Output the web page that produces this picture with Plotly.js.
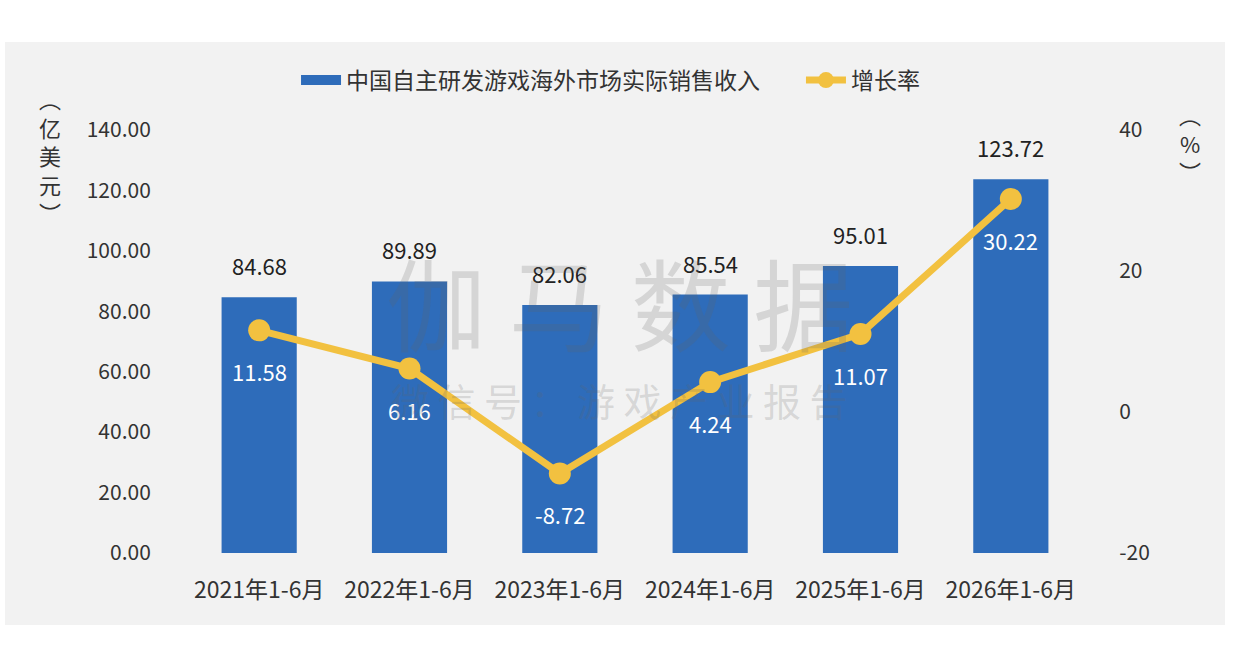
<!DOCTYPE html>
<html>
<head>
<meta charset="utf-8">
<script src="https://cdn.plot.ly/plotly-3.0.1.min.js"></script>
<style>
  html, body { margin: 0; padding: 0; background: #ffffff; }
  #chart { width: 1248px; height: 651px; }
</style>
</head>
<body>
<div id="chart"></div>
<script>
// Chart data
var periods = ['2021年1-6月', '2022年1-6月', '2023年1-6月', '2024年1-6月', '2025年1-6月', '2026年1-6月'];
var revenue = [84.68, 89.89, 82.06, 85.54, 95.01, 123.72];
var growth = [11.58, 6.16, -8.72, 4.24, 11.07, 30.22];

var rateTicks = [-20, 0, 20, 40];
var rateTickText = ['-20', '0', '20', '40'];

var barName = '中国自主研发游戏海外市场实际销售收入';
var lineName = '增长率';

var BAR_COLOR = '#2e6cba';
var LINE_COLOR = '#f2c140';
var FONT = '"Noto Sans CJK SC", "Noto Sans", sans-serif';
var TEXT_COLOR = '#333333';

var bars = {
    x: periods,
    y: revenue,
    name: barName,
    type: 'bar',
    width: 0.5,
    marker: { color: BAR_COLOR },
    showlegend: false,
    hoverinfo: 'skip'
};

// legend swatch for the bars (wide rectangle like the original)
var barKey = {
    x: [null],
    y: [null],
    name: barName,
    type: 'scatter',
    mode: 'lines',
    line: { color: BAR_COLOR, width: 13 },
    legend: 'legend',
    hoverinfo: 'skip'
};

var line = {
    x: periods,
    y: growth,
    name: lineName,
    type: 'scatter',
    mode: 'lines+markers',
    yaxis: 'y2',
    line: { color: LINE_COLOR, width: 7 },
    marker: { color: LINE_COLOR, size: 22 },
    legend: 'legend2',
    hoverinfo: 'skip'
};

// value labels
var annotations = [];
periods.forEach(function (p, i) {
    annotations.push({
        x: p, y: revenue[i], xref: 'x', yref: 'y',
        text: revenue[i].toFixed(2),
        showarrow: false, yanchor: 'bottom', yshift: 14,
        font: { family: FONT, size: 22, color: '#222222' }
    });
    annotations.push({
        x: p, y: growth[i], xref: 'x', yref: 'y2',
        text: growth[i].toFixed(2),
        showarrow: false, yanchor: 'middle', yshift: -41,
        font: { family: FONT, size: 22, color: '#ffffff' }
    });
});

// axis unit labels
annotations.push({
    xref: 'paper', yref: 'paper', x: -0.1486, y: 0.94,
    xanchor: 'center', yanchor: 'middle',
    text: '︵<br>亿<br>美<br>元<br>︶',
    showarrow: false, align: 'center',
    font: { family: FONT, size: 22, color: TEXT_COLOR }
});
annotations.push({
    xref: 'paper', yref: 'paper', x: 1.1153, y: 0.9716,
    xanchor: 'center', yanchor: 'middle',
    text: '︵<br>%<br>︶',
    showarrow: false, align: 'center',
    font: { family: FONT, size: 22, color: TEXT_COLOR }
});

// watermark
annotations.push({
    xref: 'paper', yref: 'paper', x: 0.483, y: 0.598,
    xanchor: 'center', yanchor: 'middle',
    text: '伽 马 数 据',
    showarrow: false,
    font: { family: FONT, size: 100, color: 'rgba(100,100,100,0.2)' }
});
annotations.push({
    xref: 'paper', yref: 'paper', x: 0.483, y: 0.362,
    xanchor: 'center', yanchor: 'middle',
    text: '微 信 号 ： 游 戏 产 业 报 告',
    showarrow: false,
    font: { family: FONT, size: 38, color: 'rgba(100,100,100,0.2)' }
});

var legendStyle = function (x) {
    return {
        orientation: 'h',
        x: x, xanchor: 'left',
        y: 1.118, yanchor: 'middle',
        font: { family: FONT, size: 23, color: TEXT_COLOR },
        itemwidth: 40,
        bgcolor: 'rgba(0,0,0,0)'
    };
};

var layout = {
    width: 1248,
    height: 651,
    margin: { l: 184, r: 162, t: 130, b: 98 },
    paper_bgcolor: '#ffffff',
    plot_bgcolor: 'rgba(0,0,0,0)',
    font: { family: FONT, size: 21, color: TEXT_COLOR },
    showlegend: true,
    legend: legendStyle(0.1242),
    legend2: legendStyle(0.684),
    xaxis: {
        type: 'category',
        showgrid: false, zeroline: false, showline: false,
        ticks: 'outside', ticklen: 16, tickcolor: 'rgba(0,0,0,0)',
        tickfont: { family: FONT, size: 23, color: TEXT_COLOR }
    },
    yaxis: {
        range: [0, 140],
        dtick: 20,
        tickformat: '.2f',
        showgrid: false, zeroline: false, showline: false,
        ticks: 'outside', ticklen: 28, tickcolor: 'rgba(0,0,0,0)',
        tickfont: { family: FONT, size: 21, color: TEXT_COLOR }
    },
    yaxis2: {
        overlaying: 'y',
        side: 'right',
        range: [-20, 40],
        tickmode: 'array',
        tickvals: rateTicks,
        ticktext: rateTickText,
        showgrid: false, zeroline: false, showline: false,
        ticks: 'outside', ticklen: 28, tickcolor: 'rgba(0,0,0,0)',
        tickfont: { family: FONT, size: 21, color: TEXT_COLOR }
    },
    shapes: [{
        type: 'rect', layer: 'below',
        xref: 'paper', yref: 'paper',
        x0: -0.1984, x1: 1.1541, y0: -0.1702, y1: 1.208,
        fillcolor: '#f2f2f2', line: { width: 0 }
    }],
    annotations: annotations
};

Plotly.newPlot('chart', [barKey, bars, line], layout, { displayModeBar: false, staticPlot: true });
</script>
</body>
</html>
